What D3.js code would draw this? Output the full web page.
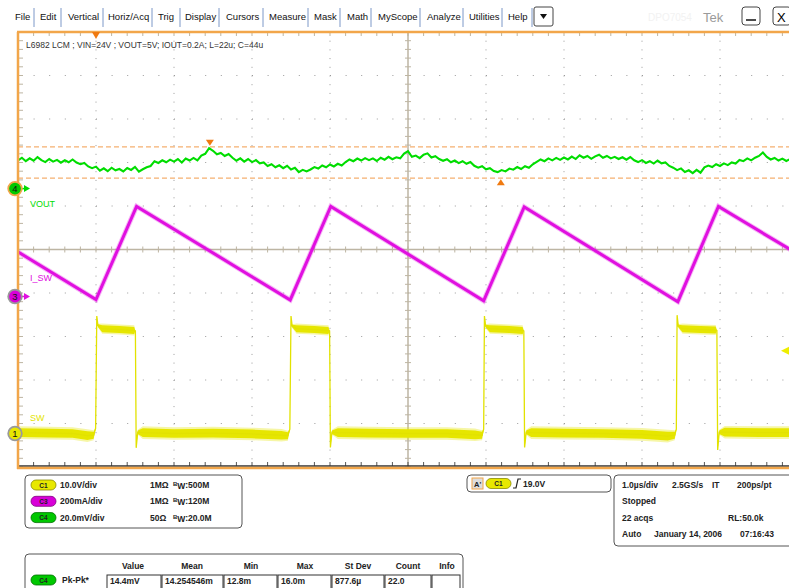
<!DOCTYPE html>
<html>
<head>
<meta charset="utf-8">
<script src="https://cdn.jsdelivr.net/npm/d3@7"></script>
<style>
body { margin: 0; background: #fff; }
svg { display: block; font-family: "Liberation Sans", Arial, sans-serif; }
</style>
</head>
<body>
<script>
var svg_width  = 789;
var svg_height = 588;

// ---- data ----
var menu_items = ["File", "Edit", "Vertical", "Horiz/Acq", "Trig", "Display", "Cursors",
                  "Measure", "Mask", "Math", "MyScope", "Analyze", "Utilities", "Help"];
var title_text = "L6982 LCM ; VIN=24V ; VOUT=5V; IOUT=0.2A; L=22u; C=44u";

// channel setup
var ch_names  = ["C1", "C3", "C4"];
var ch_scale  = ["10.0V/div", "200mA/div", "20.0mV/div"];
var ch_term   = ["1M\u03a9", "1M\u03a9", "50\u03a9"];
var ch_bw     = [":500M", ":120M", ":20.0M"];
var ch_labels = ["SW", "I_SW", "VOUT"];
var ch_num    = ["1", "3", "4"];
var ch_perdiv = [10, 200, 20];          // V, mA, mV per division
var ch_offset = [-4.23, -1.08, 1.40];   // position in divisions

// CH4  VOUT ripple (mV), one sample every 0.05 us from -5 us
var vout_t0 = -5, vout_dt = 0.05;
var vout_mV = [
  13.0, 14.2, 12.6, 13.9, 12.8, 14.5, 13.1, 12.2, 13.6, 12.4,
  13.2, 11.9, 13.0, 12.1, 13.4, 12.0, 11.2, 11.8, 10.2, 9.4,
  10.1, 8.2, 9.3, 8.0, 9.6, 8.4, 9.0, 7.9, 9.5, 8.6,
  10.0, 7.8, 8.9, 9.8, 10.4, 12.6, 11.8, 13.0, 12.1, 13.3,
  12.4, 13.6, 12.0, 13.8, 12.9, 14.1, 13.0, 15.2, 16.0, 18.6,
  17.4, 15.8, 16.4, 15.0, 15.9, 14.2, 12.8, 13.9, 12.4, 13.6,
  12.2, 13.1, 11.6, 12.0, 10.4, 11.2, 9.8, 10.7, 9.4, 10.5,
  8.8, 9.6, 7.6, 8.6, 7.9, 8.8, 9.9, 9.2, 10.6, 9.8,
  11.1, 10.2, 11.4, 10.6, 12.2, 13.4, 12.6, 13.8, 12.9, 14.0,
  13.1, 13.9, 12.7, 14.2, 13.3, 14.6, 13.5, 14.4, 13.9, 16.1,
  17.2, 14.6, 15.2, 14.0, 15.6, 16.2, 14.3, 14.9, 13.6, 12.8,
  13.5, 12.1, 12.9, 11.7, 12.6, 11.4, 12.2, 10.5, 9.6, 10.3,
  8.9, 9.4, 8.1, 7.6, 8.5, 7.9, 9.2, 8.7, 9.9, 9.0,
  10.3, 9.6, 11.2, 12.3, 13.4, 12.6, 13.9, 13.0, 14.1, 13.2,
  14.3, 13.4, 14.7, 13.6, 15.3, 14.2, 15.0, 13.7, 14.8, 15.6,
  14.2, 15.0, 13.9, 14.6, 13.6, 14.4, 13.3, 14.5, 13.0, 12.2,
  13.1, 11.8, 12.6, 11.5, 12.9, 11.6, 12.0, 10.4, 9.6, 8.5,
  9.3, 7.6, 8.4, 7.1, 8.6, 7.3, 9.8, 10.6, 9.9, 11.2,
  10.4, 11.6, 10.8, 12.0, 11.5, 13.2, 12.6, 13.9, 13.0, 14.2,
  15.0, 16.6, 14.6, 13.4, 14.1, 12.9, 13.8, 12.7, 13.6, 12.5,
  13.3
];

// CH3  inductor / switch current (mA)
var isw_t  = [-5, -4.00, -3.48, -1.51, -0.99, 0.97, 1.49, 3.46, 3.98, 5];
var isw_mA = [205, -14, 414, -16, 414, -20, 412, -24, 414, 194];

// CH1  switch node (V) and noise half-band (V)
var sw_t = [-5.00, -4.60, -4.30, -4.11, -4.03, -4.005, -3.99, -3.975, -3.92, -3.70, -3.51, -3.495,
            -3.485, -3.465, -3.40, -3.00, -2.50, -2.00, -1.62, -1.54, -1.515, -1.50, -1.485, -1.43,
            -1.20, -1.02, -1.005, -0.995, -0.975, -0.90, -0.50, 0.00, 0.50, 0.86, 0.95, 0.97,
            0.98, 0.995, 1.05, 1.30, 1.47, 1.485, 1.495, 1.515, 1.58, 2.00, 2.50, 3.00,
            3.33, 3.42, 3.44, 3.45, 3.465, 3.52, 3.75, 3.945, 3.96, 3.97, 3.99, 4.06, 4.50, 5.00];
var sw_v = [0.2, 0.1, 0.0, -0.5, -0.4, 1.2, 27.0, 24.8, 24.1, 23.9, 23.7, 23.6,
            -3.3, 0.3, 0.2, 0.0, 0.1, -0.1, -0.4, -0.5, 1.0, 27.0, 24.7, 24.1,
            23.9, 23.7, 23.6, -3.2, 0.3, 0.2, 0.1, 0.0, 0.0, -0.3, -0.4, 1.0,
            27.0, 24.7, 24.1, 23.9, 23.7, 23.6, -3.2, 0.3, 0.2, 0.1, 0.0, -0.2,
            -0.6, -0.4, 1.0, 27.2, 24.7, 24.1, 23.9, 23.8, 23.7, -3.8, 0.3, 0.3, 0.2, 0.2];
var sw_band = [1.0, 1.0, 1.0, 1.0, 0.8, 0, 0, 0.3, 0.8, 0.8, 0.8, 0,
               0, 0.4, 1.0, 1.0, 1.0, 1.0, 1.0, 0.8, 0, 0, 0.3, 0.8,
               0.8, 0.8, 0, 0, 0.4, 1.0, 1.0, 1.0, 1.0, 1.0, 0.8, 0,
               0, 0.3, 0.8, 0.8, 0.8, 0, 0, 0.4, 1.0, 1.0, 1.0, 1.0,
               1.0, 0.8, 0, 0, 0.3, 0.8, 0.8, 0.8, 0, 0, 0.4, 1.0, 1.0, 1.0];

// cursors / trigger
var cursor_mV = [19.2, 4.8];
var cursor_marks_t = [-2.54, 1.19];
var trig_t = -4.0;
var trig_level_V = 19.0;

// info panels
var trig_text = "19.0V";
var horiz_rows = [["1.0\u00b5s/div", "2.5GS/s", "IT", "200ps/pt"], ["Stopped"],
                  ["22 acqs", "RL:50.0k"], ["Auto", "January 14, 2006", "07:16:43"]];
var meas_head = ["Value", "Mean", "Min", "Max", "St Dev", "Count", "Info"];
var meas_row  = ["14.4mV", "14.254546m", "12.8m", "16.0m", "877.6\u00b5", "22.0", ""];
var meas_name = "Pk-Pk*";

// ---- layout ----
var menu_x   = [15, 40, 68, 108, 158, 185, 226, 269, 314, 347, 378, 427, 469, 508];
var menu_sep = [34, 61, 103, 152, 180, 219, 263, 308, 340, 371, 420, 463, 502, 532];
var col_x    = [107, 162, 224, 278, 332, 385, 432, 461];
var head_cx  = [133, 192, 251, 305, 358, 408, 447];
var label_dy = [-13, -15, 18];

var p_left = 18, p_right = 798, p_top = 32, p_bottom = 467;

var x = d3.scaleLinear().domain([-5, 5]).range([p_left, p_right]);
var yDiv = d3.scaleLinear().domain([-5, 5]).range([p_bottom, p_top]);
function yCh(i, v) { return yDiv(v / ch_perdiv[i] + ch_offset[i]); }

var col_sw = "#e6e600", col_i = "#e010e0", col_v = "#00dd00";
var ch_fill = ["#e8e800", "#d800d8", "#00c800"];
var ch_dark = ["#8a8a00", "#800080", "#007000"];

var svg = d3.select('body').append('svg')
            .attr('width', svg_width)
            .attr('height', svg_height);

// ---- menu bar ----
var menu = svg.append("g").attr("font-size", "9.5px").attr("fill", "#111");
menu.selectAll("text").data(menu_items).enter().append("text")
    .attr("x", (d, i) => menu_x[i]).attr("y", 20).text(d => d);
menu.selectAll("line").data(menu_sep).enter().append("line")
    .attr("x1", d => d).attr("x2", d => d).attr("y1", 8).attr("y2", 27)
    .attr("stroke", "#7d98c8").attr("stroke-width", 1);
menu.append("rect").attr("x", 534).attr("y", 7).attr("width", 19).attr("height", 19)
    .attr("rx", 2).attr("fill", "#fff").attr("stroke", "#444");
menu.append("path").attr("d", "M540,14 L547,14 L543.5,19 Z").attr("fill", "#111");
svg.append("text").attr("x", 648).attr("y", 21).attr("font-size", "10px")
   .attr("fill", "#f2f2f2").text("DPO7054");
svg.append("text").attr("x", 703).attr("y", 22).attr("font-size", "13px")
   .attr("fill", "#9a9a9a").text("Tek");
svg.append("rect").attr("x", 742).attr("y", 7).attr("width", 18).attr("height", 18)
   .attr("rx", 3).attr("fill", "#fff").attr("stroke", "#444");
svg.append("line").attr("x1", 746).attr("x2", 756).attr("y1", 20).attr("y2", 20)
   .attr("stroke", "#111").attr("stroke-width", 1.5);
svg.append("rect").attr("x", 773).attr("y", 7).attr("width", 18).attr("height", 18)
   .attr("rx", 3).attr("fill", "#fff").attr("stroke", "#444");
svg.append("text").attr("x", 777).attr("y", 22).attr("font-size", "13px").text("X");

// ---- graticule ----
var grid = svg.append("g");
var vdivs = d3.range(1, 10).filter(k => k != 5);
grid.selectAll(".gv").data(vdivs).enter().append("line")
    .attr("x1", k => x(k - 5)).attr("x2", k => x(k - 5))
    .attr("y1", p_top).attr("y2", p_bottom)
    .attr("stroke", "#9a9a9a").attr("stroke-dasharray", "1," + (43.5 / 5 - 1));
grid.selectAll(".gh").data(vdivs).enter().append("line")
    .attr("y1", k => yDiv(k - 5)).attr("y2", k => yDiv(k - 5))
    .attr("x1", p_left).attr("x2", svg_width)
    .attr("stroke", "#9a9a9a").attr("stroke-dasharray", "1," + (78 / 5 - 1));

var minor_x = d3.range(0, 51).map(k => -5 + k * 0.2);
var minor_y = d3.range(0, 51).map(k => -5 + k * 0.2);
var tickCol = "#bdb5a3";
grid.append("line").attr("x1", x(0)).attr("x2", x(0)).attr("y1", p_top).attr("y2", p_bottom)
    .attr("stroke", tickCol).attr("stroke-width", 1.5);
grid.append("line").attr("y1", yDiv(0)).attr("y2", yDiv(0)).attr("x1", p_left).attr("x2", svg_width)
    .attr("stroke", tickCol).attr("stroke-width", 1.5);
grid.selectAll(".tx").data(minor_x).enter().append("line")
    .attr("x1", d => x(d)).attr("x2", d => x(d))
    .attr("y1", yDiv(0) - 3).attr("y2", yDiv(0) + 3).attr("stroke", tickCol);
grid.selectAll(".ty").data(minor_y).enter().append("line")
    .attr("y1", d => yDiv(d)).attr("y2", d => yDiv(d))
    .attr("x1", x(0) - 3).attr("x2", x(0) + 3).attr("stroke", tickCol);
grid.selectAll(".tt").data(minor_x).enter().append("line")
    .attr("x1", d => x(d)).attr("x2", d => x(d))
    .attr("y1", p_top).attr("y2", p_top + 4).attr("stroke", tickCol);
grid.selectAll(".tb").data(minor_x).enter().append("line")
    .attr("x1", d => x(d)).attr("x2", d => x(d))
    .attr("y1", p_bottom - 5).attr("y2", p_bottom - 1).attr("stroke", "#555");
grid.selectAll(".tl").data(minor_y).enter().append("line")
    .attr("y1", d => yDiv(d)).attr("y2", d => yDiv(d))
    .attr("x1", p_left).attr("x2", p_left + 5).attr("stroke", tickCol);
grid.append("line").attr("x1", p_left).attr("x2", svg_width).attr("y1", p_bottom - 1).attr("y2", p_bottom - 1)
    .attr("stroke", "#333").attr("stroke-width", 1.5);

// ---- traces ----
svg.append("clipPath").attr("id", "plot").append("rect")
   .attr("x", p_left + 1).attr("y", p_top).attr("width", p_right - p_left).attr("height", p_bottom - p_top);
var traces = svg.append("g").attr("clip-path", "url(#plot)");

// cursors
traces.selectAll(".cur").data(cursor_mV).enter().append("line")
    .attr("x1", p_left).attr("x2", svg_width)
    .attr("y1", d => yCh(2, d)).attr("y2", d => yCh(2, d))
    .attr("stroke", "#f5b070").attr("stroke-width", 1.2).attr("stroke-dasharray", "5,3");

// SW band + line
var sw = sw_t.map((t, i) => ({t: t, v: sw_v[i], b: sw_band[i]}));
var swArea = d3.area().x(d => x(d.t)).y0(d => yCh(0, d.v - d.b)).y1(d => yCh(0, d.v + d.b));
var swArea2 = d3.area().x(d => x(d.t)).y0(d => yCh(0, d.v - d.b * 1.45)).y1(d => yCh(0, d.v + d.b * 1.45));
traces.append("path").datum(sw).attr("d", swArea2).attr("fill", col_sw).attr("opacity", 0.35);
traces.append("path").datum(sw).attr("d", swArea).attr("fill", col_sw);
traces.append("path").datum(sw)
    .attr("d", d3.line().x(d => x(d.t)).y(d => yCh(0, d.v)))
    .attr("fill", "none").attr("stroke", "#e2e200").attr("stroke-width", 1.3);

// I_SW
var isw = isw_t.map((t, i) => ({t: t, v: isw_mA[i]}));
var iline = d3.line().x(d => x(d.t)).y(d => yCh(1, d.v));
traces.append("path").datum(isw).attr("d", iline)
    .attr("fill", "none").attr("stroke", col_i).attr("stroke-width", 5).attr("opacity", 0.3);
traces.append("path").datum(isw).attr("d", iline)
    .attr("fill", "none").attr("stroke", col_i).attr("stroke-width", 3);

// VOUT
traces.append("path").datum(vout_mV)
    .attr("d", d3.line().x((d, i) => x(vout_t0 + i * vout_dt)).y(d => yCh(2, d)))
    .attr("fill", "none").attr("stroke", col_v).attr("stroke-width", 2.1)
    .attr("stroke-linejoin", "miter");

// cursor markers
var cm = svg.append("g").attr("fill", "#f07a10");
cm.append("path").attr("d", function() {
    var cx = x(cursor_marks_t[0]), cy = yCh(2, cursor_mV[0]);
    return "M" + (cx - 4) + "," + (cy - 7) + "L" + (cx + 4) + "," + (cy - 7) + "L" + cx + "," + (cy - 1) + "Z";
});
cm.append("path").attr("d", function() {
    var cx = x(cursor_marks_t[1]), cy = yCh(2, cursor_mV[1]);
    return "M" + (cx - 4) + "," + (cy + 7) + "L" + (cx + 4) + "," + (cy + 7) + "L" + cx + "," + (cy + 1) + "Z";
});

// ---- frame ----
var orange = "#f2a64a";
svg.append("line").attr("x1", p_left - 1).attr("x2", svg_width).attr("y1", p_top).attr("y2", p_top)
   .attr("stroke", orange).attr("stroke-width", 2.5);
svg.append("line").attr("x1", p_left).attr("x2", p_left).attr("y1", p_top).attr("y2", p_bottom + 2)
   .attr("stroke", orange).attr("stroke-width", 2.5);
svg.append("line").attr("x1", p_left - 1).attr("x2", svg_width).attr("y1", p_bottom + 1).attr("y2", p_bottom + 1)
   .attr("stroke", orange).attr("stroke-width", 2.5);

// trigger position marker
svg.append("path")
   .attr("d", "M" + (x(trig_t) - 4) + "," + p_top + "L" + (x(trig_t) + 4) + "," + p_top + "L" + x(trig_t) + "," + (p_top + 7) + "Z")
   .attr("fill", "#f07a10");
// trigger level marker
var tl = yCh(0, trig_level_V);
svg.append("path").attr("d", "M781," + tl + "L789," + (tl - 4) + "L789," + (tl + 4) + "Z").attr("fill", "#eeee00");

// title
svg.append("text").attr("x", 26).attr("y", 48).attr("font-size", "8.5px").attr("fill", "#333")
   .text(title_text);

// channel labels and ground markers
var lab_col = ["#e4e400", col_i, col_v];
[0, 1, 2].forEach(function(i) {
    var gy = yDiv(ch_offset[i]);
    var g = svg.append("g");
    g.append("path").attr("d", "M24," + (gy - 3.5) + "L30," + gy + "L24," + (gy + 3.5) + "Z").attr("fill", lab_col[i]);
    g.append("line").attr("x1", 20).attr("x2", 25).attr("y1", gy).attr("y2", gy).attr("stroke", lab_col[i]).attr("stroke-width", 1.5);
    g.append("circle").attr("cx", 15).attr("cy", gy).attr("r", 6.8)
     .attr("fill", ch_fill[i]).attr("stroke", i == 2 ? orange : "#9a9a9a").attr("stroke-width", 1.8);
    g.append("text").attr("x", 15).attr("y", gy + 3.5).attr("text-anchor", "middle")
     .attr("font-size", "9.5px").attr("fill", "#111").text(ch_num[i]);
    g.append("text").attr("x", 30).attr("y", gy + label_dy[i]).attr("font-size", "9px")
     .attr("fill", lab_col[i]).text(ch_labels[i]);
});

// ---- info panels ----
function badge(g, bx, by, i) {
    g.append("rect").attr("x", bx).attr("y", by - 5).attr("width", 25).attr("height", 10).attr("rx", 5)
     .attr("fill", ch_fill[i]).attr("stroke", ch_dark[i]).attr("stroke-width", 0.8);
    g.append("text").attr("x", bx + 12.5).attr("y", by + 2.5).attr("text-anchor", "middle")
     .attr("font-size", "6.5px").attr("font-weight", "bold").attr("fill", "#222").text(ch_names[i]);
}
var p1 = svg.append("g").attr("font-weight", "bold").attr("font-size", "8.5px").attr("fill", "#222");
p1.append("rect").attr("x", 25).attr("y", 475).attr("width", 217).attr("height", 53).attr("rx", 4)
  .attr("fill", "#fff").attr("stroke", "#555");
[0, 1, 2].forEach(function(i) {
    var ry = 485 + i * 16.3;
    badge(p1, 31, ry, i);
    p1.append("text").attr("x", 60).attr("y", ry + 3).text(ch_scale[i]);
    p1.append("text").attr("x", 150).attr("y", ry + 3).text(ch_term[i]);
    var t = p1.append("text").attr("x", 173).attr("y", ry + 3);
    t.append("tspan").attr("font-size", "6px").attr("dy", -2).text("B");
    t.append("tspan").attr("dy", 3).text("W");
    t.append("tspan").attr("dy", -1).text(ch_bw[i]);
});

var p2 = svg.append("g").attr("font-weight", "bold").attr("font-size", "8.5px").attr("fill", "#222");
p2.append("rect").attr("x", 467).attr("y", 475).attr("width", 144).attr("height", 17).attr("rx", 4)
  .attr("fill", "#fff").attr("stroke", "#555");
p2.append("rect").attr("x", 472).attr("y", 478).attr("width", 11).attr("height", 11)
  .attr("fill", "#ddd").attr("stroke", orange);
p2.append("text").attr("x", 474).attr("y", 487).attr("font-size", "7.5px").text("A'");
badge(p2, 486, 483.5, 0);
p2.append("path").attr("d", "M513,488 L516,488 L518,479 L521,479").attr("fill", "none").attr("stroke", "#222").attr("stroke-width", 1.2);
p2.append("text").attr("x", 523).attr("y", 487).text(trig_text);

var p3 = svg.append("g").attr("font-weight", "bold").attr("font-size", "8.5px").attr("fill", "#222");
p3.append("rect").attr("x", 614).attr("y", 475).attr("width", 190).attr("height", 71).attr("rx", 4)
  .attr("fill", "#fff").attr("stroke", "#555");
var hx = [[622, 672, 712, 737], [622], [622, 728], [622, 654, 740]];
horiz_rows.forEach(function(row, r) {
    row.forEach(function(s, k) {
        p3.append("text").attr("x", hx[r][k]).attr("y", 488 + r * 16.3).text(s);
    });
});

var p4 = svg.append("g").attr("font-weight", "bold").attr("font-size", "8.5px").attr("fill", "#222");
p4.append("rect").attr("x", 25).attr("y", 554).attr("width", 438).attr("height", 50).attr("rx", 4)
  .attr("fill", "#fff").attr("stroke", "#555");
p4.selectAll(".h").data(meas_head).enter().append("text")
  .attr("x", (d, i) => head_cx[i]).attr("y", 569).attr("text-anchor", "middle").text(d => d);
badge(p4, 31, 580, 2);
p4.append("text").attr("x", 62).attr("y", 583).text(meas_name);
meas_row.forEach(function(s, i) {
    p4.append("rect").attr("x", col_x[i]).attr("y", 575).attr("width", col_x[i + 1] - col_x[i] - 1).attr("height", 20)
      .attr("fill", "#fff").attr("stroke", "#333").attr("stroke-width", 1);
    p4.append("text").attr("x", col_x[i] + 3).attr("y", 584).text(s);
});
</script>
</body>
</html>
